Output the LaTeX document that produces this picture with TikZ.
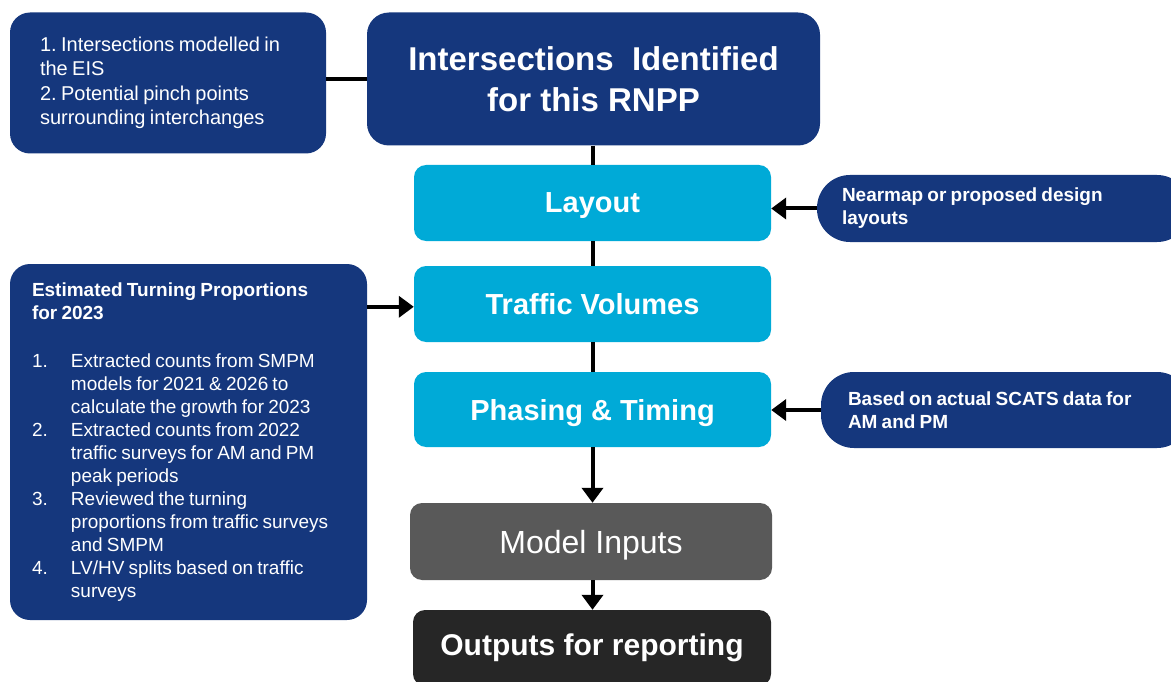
\documentclass[tikz,border=0pt]{standalone}
\usepackage{fontspec}
\setmainfont{Liberation Sans}
\usetikzlibrary{arrows.meta}
\definecolor{navy}{RGB}{21,55,125}
\definecolor{skyblue}{RGB}{0,170,215}
\definecolor{midgray}{RGB}{89,89,89}
\definecolor{nearblack}{RGB}{38,38,38}
\newcommand\itemnum[1]{\makebox[39pt][l]{#1}}
\newcommand\itemind{\hspace*{39pt}}
\newcommand\tightwords{\frenchspacing\spaceskip=0.22em plus 0.1em\relax}
\begin{document}
\begin{tikzpicture}[x=1pt,y=-1pt,
  panel/.style={inner sep=0pt, text=white, rounded corners=#1},
  navybox/.style={panel=#1, fill=navy},
  stepbox/.style={panel=12pt, fill=skyblue, minimum width=357pt, minimum height=76pt,
    text depth=0pt, font=\fontsize{29}{34}\selectfont\bfseries},
  link/.style={line width=4pt, draw=black},
  arr/.style={link, -{Triangle[length=15pt,width=21pt]}}
]
\useasboundingbox (0,0) rectangle (1171,682);

% main title box
\node[navybox=22pt, minimum width=453pt, minimum height=133pt, align=center,
  font=\fontsize{33}{41}\selectfont\bfseries] (main) at (593.5,79)
  {Intersections\ \ Identified\\for this RNPP};

% scope note on the left
\node[navybox=20pt, minimum width=316pt, minimum height=141pt, text width=256pt, align=left,
  font=\fontsize{20}{24.5}\selectfont] (scope) at (168,83)
  {\tightwords 1. Intersections modelled in\\the EIS\\2. Potential pinch points\\surrounding interchanges};

% process steps
\node[stepbox] (layout) at (592.5,203) {Layout};
\node[stepbox] (traffic) at (592.5,304) {Traffic Volumes};
\node[stepbox, minimum height=75pt] (phasing) at (592.5,409.5) {Phasing \& Timing};
\node[panel=12pt, fill=midgray, minimum width=362pt, minimum height=77pt, text depth=0pt,
  font=\fontsize{32}{38}\selectfont] (model) at (591,541.5) {Model Inputs};
\node[panel=12pt, fill=nearblack, minimum width=358pt, minimum height=76pt,
  font=\fontsize{30}{36}\selectfont\bfseries] (outputs) at (592,648) {Outputs for reporting};

% turning proportion notes
\node[navybox=20pt, minimum width=357pt, minimum height=356pt, text width=313pt, align=left,
  font=\fontsize{19}{23}\selectfont] (turning) at (188.5,442)
  {\tightwords\textbf{Estimated Turning Proportions}\\
   \textbf{for 2023}\\[25pt]
   \itemnum{1.}Extracted counts from SMPM\\
   \itemind models for 2021 \& 2026 to\\
   \itemind calculate the growth for 2023\\
   \itemnum{2.}Extracted counts from 2022\\
   \itemind traffic surveys for AM and PM\\
   \itemind peak periods\\
   \itemnum{3.}Reviewed the turning\\
   \itemind proportions from traffic surveys\\
   \itemind and SMPM\\
   \itemnum{4.}LV/HV splits based on traffic\\
   \itemind surveys};

% right-hand source notes
\node[navybox=33pt, minimum width=373pt, minimum height=67pt, text width=323pt, align=left,
  font=\fontsize{19}{23}\selectfont\bfseries] (nearmap) at (1003.5,208.5)
  {\tightwords Nearmap or proposed design\\layouts};
\node[navybox=33pt, minimum width=369pt, minimum height=76pt, text width=315pt, align=left,
  font=\fontsize{19}{23}\selectfont\bfseries] (scats) at (1005.5,410)
  {\tightwords Based on actual SCATS data for\\AM and PM};

% connectors
\draw[link] (scope.east |- main) -- (main.west);
\draw[link] (main.south -| layout) -- (layout.north);
\draw[link] (layout.south) -- (traffic.north);
\draw[link] (traffic.south) -- (phasing.north);
\draw[arr] (phasing.south) -- (phasing.south |- model.north);
\draw[arr] (model.south -| phasing) -- (outputs.north -| phasing);
\draw[arr] (nearmap.west) -- (nearmap.west -| layout.east);
\draw[arr] (scats.west) -- (scats.west -| phasing.east);
\draw[arr] ([yshift=-43pt]turning.north east) -- ([yshift=-43pt]turning.north east -| traffic.west);
\end{tikzpicture}
\end{document}
